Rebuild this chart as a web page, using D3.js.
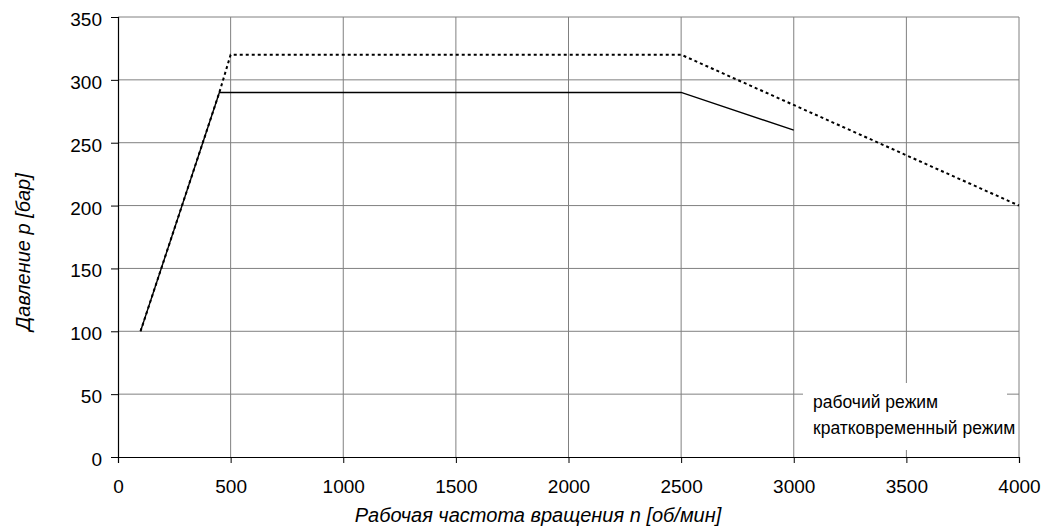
<!DOCTYPE html>
<html><head><meta charset="utf-8">
<script src="https://cdn.jsdelivr.net/npm/d3@7"></script>
<style>body{margin:0;background:#fff}svg{display:block}text{font-family:"Liberation Sans",Arial,sans-serif}</style>
</head><body>
<svg id="c" width="1045" height="528"></svg>
<script>
const xTicks = [0,500,1000,1500,2000,2500,3000,3500,4000];
const yTicks = [0,50,100,150,200,250,300,350];
const workRpm = [100,450,2500,3000];
const workP = [100,290,290,260];
const shortRpm = [100,450,500,2500,4000];
const shortP = [100,290,320,320,200];
const legendLabels = ["рабочий режим","кратковременный режим"];
const xTitle = "Рабочая частота вращения n [об/мин]";
const yTitle = "Давление p [бар]";

const svg = d3.select("#c");
const L=118,R=1019,T=17,B=457;
const x = d3.scaleLinear().domain([0,4000]).range([L,R]);
const y = d3.scaleLinear().domain([0,350]).range([B,T]);

const grid = svg.append("g");
grid.selectAll("line.v").data(xTicks.slice(1)).join("line")
  .attr("x1",d=>x(d)).attr("x2",d=>x(d)).attr("y1",T).attr("y2",B)
  .attr("stroke","#808080").attr("stroke-width",1);
grid.selectAll("line.h").data(yTicks.slice(1)).join("line")
  .attr("x1",L).attr("x2",R).attr("y1",d=>y(d)).attr("y2",d=>y(d))
  .attr("stroke","#808080").attr("stroke-width",1);

const xa = svg.append("g").attr("transform",`translate(0,${B})`)
  .call(d3.axisBottom(x).tickValues(xTicks).tickSize(6).tickPadding(17).tickFormat(d3.format("d")));
const ya = svg.append("g").attr("transform",`translate(${L},0)`)
  .call(d3.axisLeft(y).tickValues(yTicks).tickSize(7).tickPadding(9).tickFormat(d3.format("d")));
[xa,ya].forEach(a=>{
  a.selectAll("path").attr("stroke","#000").attr("stroke-width",1.2);
  a.selectAll("line").attr("stroke","#000");
  a.selectAll("text").attr("font-size",19).attr("fill","#000");
});
ya.selectAll("text").attr("dy","0.45em");

const line = d3.line().x(d=>x(d[0])).y(d=>y(d[1]));
svg.append("path").datum(shortRpm.map((r,i)=>[r,shortP[i]]))
  .attr("d",line).attr("fill","none").attr("stroke","#000")
  .attr("stroke-width",2).attr("stroke-dasharray","3,3");
svg.append("path").datum(workRpm.map((r,i)=>[r,workP[i]]))
  .attr("d",line).attr("fill","none").attr("stroke","#000").attr("stroke-width",1.4);

// legend
svg.append("rect").attr("x",803).attr("y",383).attr("width",204).attr("height",67).attr("fill","#fff");
svg.selectAll("text.leg").data(legendLabels).join("text")
  .attr("x",813).attr("y",(d,i)=>408+i*26).attr("font-size",17.5).attr("fill","#000").text(d=>d);

svg.append("text").attr("x",538).attr("y",522).attr("text-anchor","middle")
  .attr("font-size",20).attr("font-style","italic").text(xTitle);
svg.append("text").attr("transform",`translate(30,252) rotate(-90)`).attr("text-anchor","middle")
  .attr("font-size",20).attr("font-style","italic").text(yTitle);
</script>
</body></html>
